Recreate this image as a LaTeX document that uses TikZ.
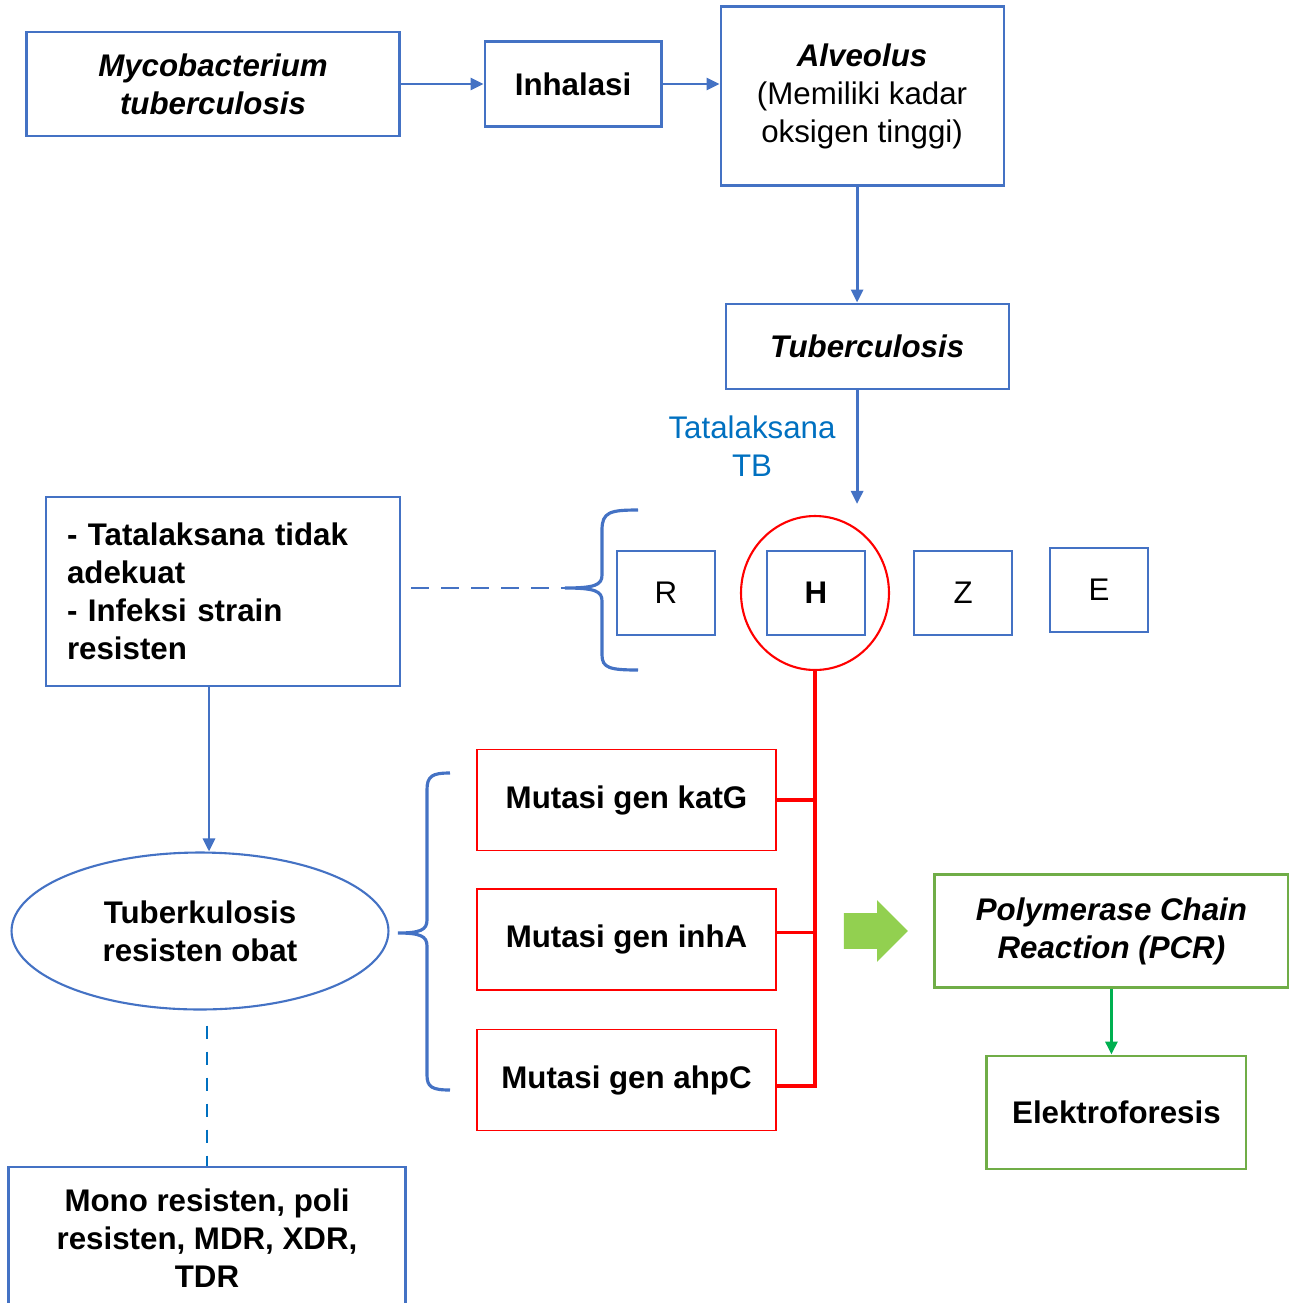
\documentclass[tikz,border=0pt]{standalone}
\usepackage{fontspec}
\setmainfont{Liberation Sans}
\usetikzlibrary{arrows.meta,positioning,shapes.geometric,shapes.arrows,calc}
\definecolor{boxblue}{RGB}{68,114,196}
\definecolor{textblue}{RGB}{0,112,192}
\definecolor{boxgreen}{RGB}{112,173,71}
\definecolor{arrowgreen}{RGB}{0,176,80}
\definecolor{blockgreen}{RGB}{146,208,80}
\definecolor{mutred}{RGB}{255,0,0}
\newcommand{\bigfont}{\fontsize{17.8}{21.6}\selectfont}

\begin{document}
\begin{tikzpicture}[x=0.02cm,y=-0.02cm,>={Triangle[length=0.26cm,width=0.24cm]},font=\bigfont]
\tikzstyle{blbox}=[draw=boxblue,line width=1.2pt,align=center,inner sep=0pt]
\tikzstyle{drug}=[blbox,minimum width=1.96cm,minimum height=1.68cm]
\tikzstyle{redbox}=[draw=mutred,line width=0.9pt,minimum width=5.98cm,minimum height=2.02cm,font=\bigfont\bfseries]
\tikzstyle{grbox}=[draw=boxgreen,line width=1.2pt,align=center,inner sep=0pt]
\tikzstyle{bluearrow}=[draw=boxblue,fill=boxblue,line width=1.6pt,->]
\tikzstyle{braceline}=[draw=boxblue,line width=1.8pt]
\tikzstyle{redline}=[draw=mutred,line width=2.1pt]
\useasboundingbox (0,0) rectangle (1293,1303);
% top row
\node[blbox,minimum width=7.46cm,minimum height=2.08cm,font=\bigfont\bfseries\itshape] (myco) at (213,84) {Mycobacterium\\tuberculosis};
\node[blbox,minimum width=3.54cm,minimum height=1.70cm,font=\bigfont\bfseries, right=1.66cm of myco] (inhal) {Inhalasi};
\node[blbox,minimum width=5.66cm,minimum height=3.58cm, right=1.14cm of inhal, yshift=-0.24cm] (alv) {\textbf{\textit{Alveolus}}\\(Memiliki kadar\\oksigen tinggi)};
\node[blbox,minimum width=5.66cm,minimum height=1.70cm,font=\bigfont\bfseries\itshape, below=2.32cm of alv, xshift=0.1cm] (tb) {Tuberculosis};
\node[text=textblue,align=center] (tlabel) at (752,446) {Tatalaksana\\TB};
% drugs
\node[drug,font=\bigfont\bfseries] (drugH) at (816,593) {H};
\node[drug, left=1.0cm of drugH] (drugR) {R};
\node[drug, right=0.94cm of drugH] (drugZ) {Z};
\node[drug, right=0.72cm of drugZ, yshift=0.06cm] (drugE) {E};
\node[ellipse,draw=mutred,line width=1.2pt,minimum width=2.96cm,minimum height=3.08cm,inner sep=0pt] (hring) at (815,593) {};
\node[blbox,minimum width=7.08cm,minimum height=3.78cm,text width=6.24cm,align=left,font=\bigfont\bfseries] (lbox) at (223,591.5) {- Tatalaksana tidak\\adekuat\\- Infeksi strain\\resisten};
% resistance
\node[ellipse,draw=boxblue,line width=1.2pt,minimum width=7.54cm,minimum height=3.14cm,inner sep=0pt,align=center,font=\bigfont\bfseries] (tbro) at (200,931) {Tuberkulosis\\resisten obat};
\node[blbox,minimum width=7.94cm,minimum height=2.84cm,font=\bigfont\bfseries] (mono) at (207,1238) {Mono resisten, poli\\resisten, MDR, XDR,\\TDR};
\node[redbox] (katg) at (626.5,800) {Mutasi gen katG};
\node[redbox, below=0.74cm of katg] (inha) {Mutasi gen inhA};
\node[redbox, below=0.76cm of inha] (ahpc) {Mutasi gen ahpC};
% PCR
\node[single arrow,fill=blockgreen,minimum height=1.28cm,inner xsep=0pt,inner ysep=0.35cm,single arrow head extend=0.26cm,single arrow tip angle=90] (garrow) at (867,931) {};
\node[grbox,minimum width=7.08cm,minimum height=2.26cm,font=\bigfont\bfseries\itshape, right=0.5cm of garrow] (pcr) {Polymerase Chain\\Reaction (PCR)};
\node[grbox,minimum width=5.20cm,minimum height=2.26cm,font=\bigfont\bfseries, below=1.32cm of pcr, xshift=0.1cm] (elek) {Elektroforesis};
% braces
\coordinate (btip) at (565,588);
\coordinate (Btip) at (398,933);
\draw[braceline] (638,510) .. controls (610,510) and (602,512) .. (602,530) -- (602,575) .. controls (602,585) and (595,588) .. (btip) .. controls (595,588) and (602,591) .. (602,601) -- (602,655) .. controls (602,668) and (610,670) .. (638,670);
\draw[braceline] (450,773) .. controls (432,773) and (427,776) .. (427,790) -- (427,920) .. controls (427,930) and (420,933) .. (Btip) .. controls (420,933) and (427,936) .. (427,946) -- (427,1075) .. controls (427,1087) and (432,1090) .. (450,1090);
% connectors
\draw[bluearrow] (myco.east |- inhal) -- (inhal);
\draw[bluearrow] (inhal.east) -- (inhal.east -| alv.west);
\draw[bluearrow] ([xshift=-0.1cm]alv.south) -- ([xshift=-0.1cm]alv.south |- tb.north);
\draw[bluearrow] ([xshift=-0.2cm]tb.south) -- ([xshift=-0.2cm,yshift=0.22cm]tb.south |- hring.north);
\draw[draw=boxblue,line width=1.6pt,dash pattern=on 0.36cm off 0.24cm] ([xshift=0.2cm]lbox.east |- btip) -- (btip);
\draw[bluearrow] ([xshift=-0.28cm]lbox.south) -- ([xshift=-0.28cm]lbox.south |- tbro.north);
\draw[draw=textblue,line width=1.7pt,dash pattern=on 0.26cm off 0.26cm] ([yshift=-0.3cm]tbro.south -| mono.north) -- (mono.north);
\draw[redline] (hring.south) |- ([yshift=-0.12cm]ahpc.east);
\draw[redline] (katg.east) -- (katg.east -| hring.south);
\draw[redline] ([yshift=0.14cm]inha.east) -- ([yshift=0.14cm]inha.east -| hring.south);
\draw[draw=arrowgreen,fill=arrowgreen,line width=1.6pt,->] (pcr.south) -- (pcr.south |- elek.north);
\end{tikzpicture}
\end{document}
